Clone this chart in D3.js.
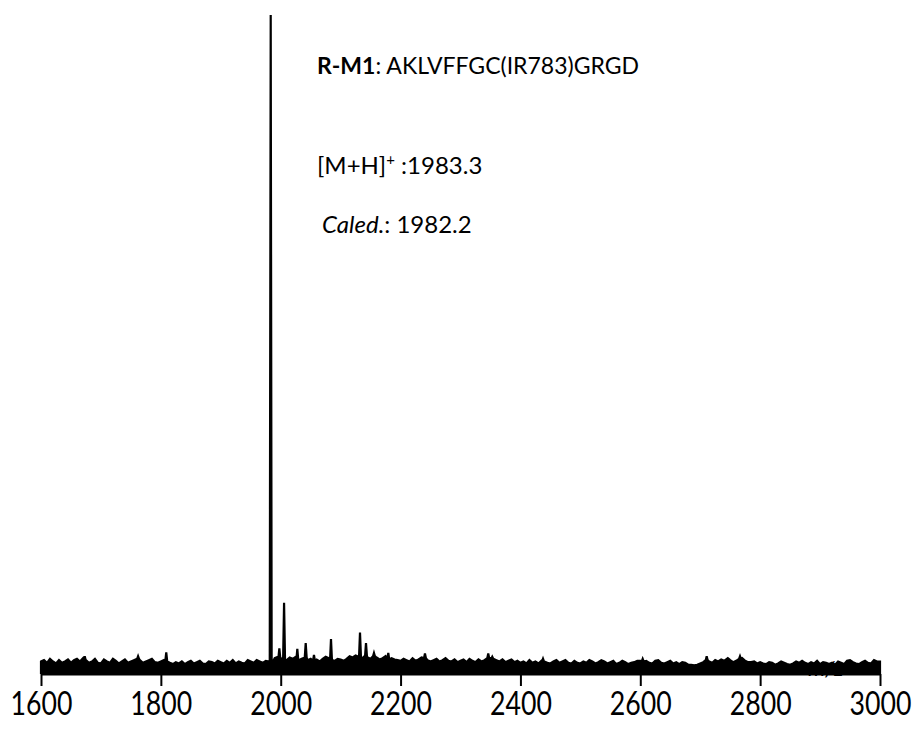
<!DOCTYPE html>
<html>
<head>
<meta charset="utf-8">
<script src="https://cdn.jsdelivr.net/npm/d3@7"></script>
<style>
  html, body { margin: 0; padding: 0; background: #fff; }
  svg { display: block; }
</style>
</head>
<body>
<svg id="chart" width="917" height="732"></svg>
<script>
// MALDI-TOF spectrum of R-M1, relative intensity (%) vs m/z

// noise floor (upper envelope) sampled every 5 m/z from 1600 to 3000
const mzStart = 1600;
const mzStep = 5;
const noiseFloor = [
  1.9,2.1,1.7,2.3,1.9,1.6,2.1,1.7,1.9,2.2, 1.7,2.1,2.3,1.9,2.4,2.1,1.7,1.9,2.3,1.7,
  1.6,2.2,1.9,1.7,2.3,2.0,1.6,1.9,2.2,1.7, 1.9,2.1,2.3,2.1,1.7,1.9,2.1,2.3,1.8,1.7,
  1.9,2.1,1.9,1.7,1.5,1.8,1.6,1.9,1.5,1.8, 2.0,1.6,1.8,2.0,1.6,1.5,1.9,1.8,1.6,2.0,
  1.8,1.6,2.0,1.7,2.1,1.6,1.9,1.7,1.6,2.1, 1.9,1.7,2.1,1.9,1.7,2.0,1.9,1.5,2.4,2.6,
  2.4,2.2,2.1,2.5,2.3,2.6,2.1,2.3,2.5,2.1, 2.3,2.0,2.2,1.9,2.3,2.6,2.4,2.1,2.0,2.3,
  2.2,2.0,2.3,2.7,2.5,2.8,2.6,2.3,2.7,2.5, 2.3,2.7,2.5,2.2,2.4,2.7,2.2,2.4,2.2,2.1,
  2.0,2.3,2.1,1.9,2.4,2.0,2.2,2.5,2.4,2.1, 1.9,2.1,2.3,1.9,2.1,2.4,2.0,1.9,2.2,1.8,
  2.0,2.2,1.8,2.3,2.0,1.8,2.2,1.9,2.1,2.4, 2.4,2.3,2.1,1.9,2.2,1.8,2.0,2.2,1.8,2.0,
  1.7,1.9,1.6,2.1,1.7,1.9,1.6,2.0,1.9,1.7, 1.6,1.9,2.1,1.7,1.9,2.1,1.7,1.6,2.0,1.7,
  1.6,1.9,1.7,2.1,1.9,1.6,1.8,2.1,1.9,1.6, 1.8,2.0,1.5,1.7,2.0,1.8,1.5,1.7,1.8,2.0,
  2.0,1.9,2.0,1.7,1.6,2.0,2.1,1.7,1.6,1.8, 2.0,1.6,1.8,1.5,1.8,1.7,1.4,1.4,1.3,1.4,
  1.6,1.8,2.1,1.9,1.7,2.1,1.9,2.2,2.0,2.3, 2.1,1.8,2.0,2.3,2.4,2.0,1.8,1.8,1.9,1.6,
  1.8,1.6,1.5,1.8,1.7,1.4,1.6,1.9,1.7,1.5, 1.4,1.6,1.9,1.7,2.0,1.7,1.5,1.8,1.6,2.0,
  1.5,1.8,1.7,1.5,1.7,1.4,1.9,1.7,1.5,2.0, 2.1,1.8,1.6,1.5,1.8,2.0,1.7,1.6,2.1,1.9,
  1.9
];

// resolved peaks: m/z and relative intensity (%)
const peakMz = [1673, 1762, 1809, 1983.3, 1997.7, 2005.6, 2027.7, 2041.7, 2055.5,
                2083.9, 2132.3, 2142.3, 2155.6, 2179.5, 2240.7, 2346.3, 2353, 2437.7,
                2604, 2710.8, 2746, 2766.4];
const peakInt = [2.7, 2.7, 3.3, 100, 3.9, 10.8, 3.8, 4.7, 2.9,
                 5.3, 6.3, 4.7, 3.2, 3.2, 3.1, 3.1, 2.6, 2.3,
                 2.3, 2.7, 2.4, 2.7];

const xTicks = [1600, 1800, 2000, 2200, 2400, 2600, 2800, 3000];

const title = { bold: "R-M1", rest: ": AKLVFFGC(IR783)GRGD" };
const ionLabel = { pre: "[M+H]", sup: "+", post: " :1983.3" };
const calcLabel = { it: "Caled.", post: ": 1982.2" };
const axisTitle = "m/z";

// ---- build the trace ----
const floorPts = noiseFloor.map((v, i) => ({ mz: mzStart + i * mzStep, v }));
const nearestFloor = m => noiseFloor[Math.max(0, Math.min(noiseFloor.length - 1,
                              Math.round((m - mzStart) / mzStep)))];
const halfWidth = 1.6;
let trace = floorPts.slice();
peakMz.forEach((m, i) => {
  // drop floor samples that sit inside the peak foot
  trace = trace.filter(p => Math.abs(p.mz - m) > halfWidth);
  trace.push({ mz: m - halfWidth, v: nearestFloor(m) });
  trace.push({ mz: m, v: peakInt[i] });
  trace.push({ mz: m + halfWidth, v: nearestFloor(m) });
});
trace.sort((a, b) => a.mz - b.mz);

// ---- scales ----
const svg = d3.select("#chart");
const x = d3.scaleLinear().domain([1600, 3000]).range([41, 880]);
const y = d3.scaleLinear().domain([0, 100]).range([674, 15]);

// ---- axis title (partly covered by the trace) ----
svg.append("text")
  .attr("x", 808).attr("y", 676)
  .attr("font-family", "Lato, 'Open Sans', sans-serif")
  .attr("font-style", "italic")
  .attr("font-size", 22)
  .attr("fill", "#000")
  .text(axisTitle);

// ---- spectrum ----
const area = d3.area()
  .x(d => x(d.mz))
  .y0(y(0))
  .y1(d => y(d.v));
const line = d3.line()
  .x(d => x(d.mz))
  .y(d => y(d.v));

const full = [{ mz: 1600, v: 0 }, ...trace, { mz: 3000, v: 0 }];
svg.append("path")
  .datum(full)
  .attr("d", area)
  .attr("fill", "#000");
svg.append("path")
  .datum(full)
  .attr("d", line)
  .attr("fill", "none")
  .attr("stroke", "#000")
  .attr("stroke-width", 2.2)
  .attr("stroke-linejoin", "miter");

// ---- x axis ----
const axis = d3.axisBottom(x)
  .tickValues(xTicks)
  .tickFormat(d3.format("d"))
  .tickSize(12)
  .tickSizeOuter(0)
  .tickPadding(6);
const gx = svg.append("g")
  .attr("transform", `translate(0,${y(0)})`)
  .call(axis);
gx.select(".domain").attr("stroke", "#000").attr("stroke-width", 2);
gx.selectAll(".tick line").attr("stroke", "#000").attr("stroke-width", 2);
gx.selectAll(".tick text")
  .attr("font-family", "Lato, 'Open Sans', sans-serif")
  .attr("font-size", 33)
  .attr("fill", "#000")
  .each(function () {
    // condensed digits: each label about 62px wide
    const w = this.getComputedTextLength();
    const k = w > 0 ? 62 / w : 1;
    d3.select(this).attr("transform", `scale(${k},1)`).attr("x", 0);
  });

// ---- annotations ----
const annFont = "Lato, 'Open Sans', sans-serif";
const annSize = 23;
const t1 = svg.append("text")
  .attr("x", 317).attr("y", 74)
  .attr("font-family", annFont).attr("font-size", annSize).attr("fill", "#000");
t1.append("tspan").attr("font-weight", "bold").text(title.bold);
t1.append("tspan").text(title.rest);

const t2 = svg.append("text")
  .attr("x", 317).attr("y", 174)
  .attr("font-family", annFont).attr("font-size", 24).attr("fill", "#000");
t2.append("tspan").text(ionLabel.pre);
t2.append("tspan").attr("font-size", 15).attr("dy", -9).text(ionLabel.sup);
t2.append("tspan").attr("dy", 9).text(ionLabel.post);

const t3 = svg.append("text")
  .attr("x", 322).attr("y", 233)
  .attr("font-family", annFont).attr("font-size", 24).attr("fill", "#000");
t3.append("tspan").attr("font-style", "italic").text(calcLabel.it);
t3.append("tspan").text(calcLabel.post);
</script>
</body>
</html>
